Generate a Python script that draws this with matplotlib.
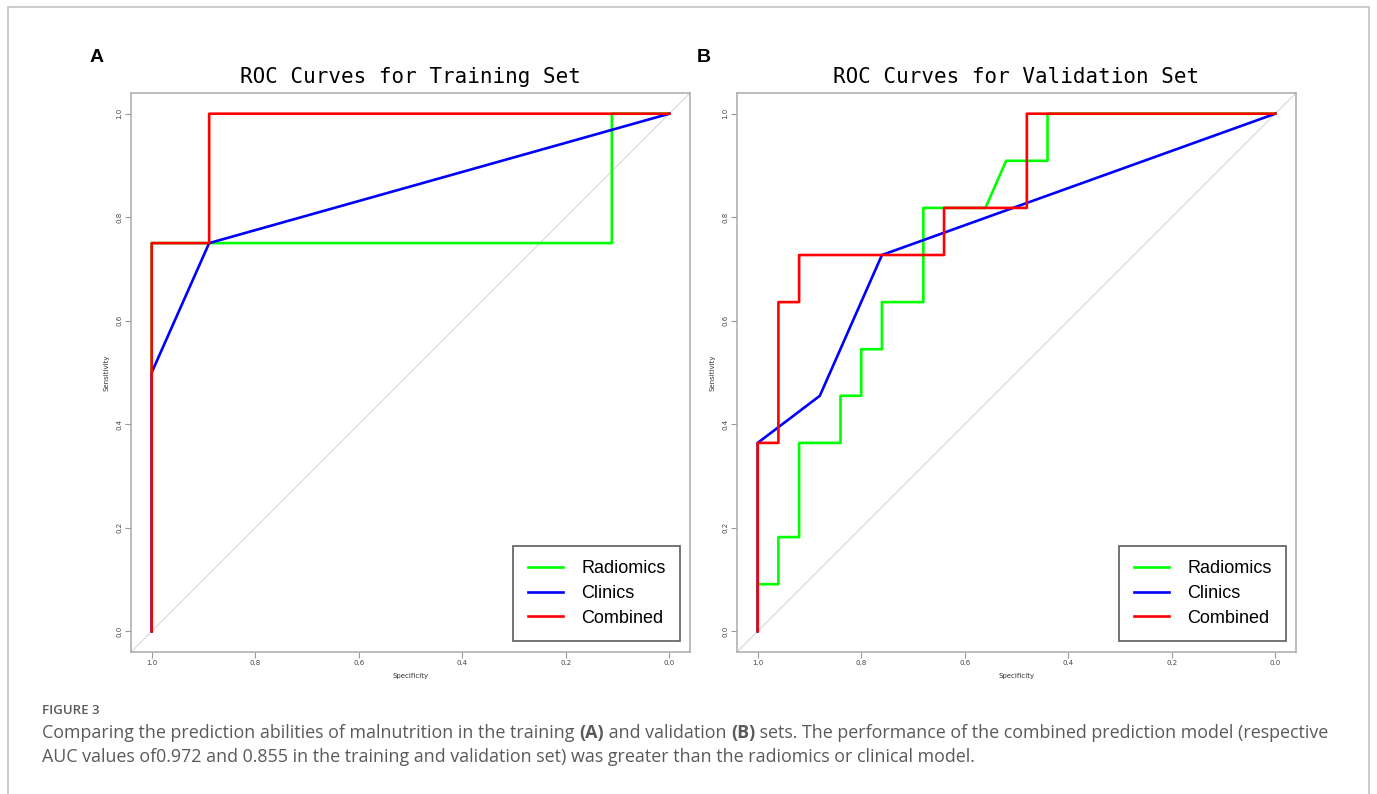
"""
ROC curves, training / validation (figure 3)
"""

import matplotlib
matplotlib.use("Agg")
import matplotlib.pyplot as plt
from matplotlib.patches import Rectangle

# training set ROC points (specificity, sensitivity)
rad_tr_spec = [1.0, 1.0, 0.889, 0.111, 0.111, 0.0]
rad_tr_sens = [0.0, 0.75, 0.75, 0.75, 1.0, 1.0]
cli_tr_spec = [1.0, 1.0, 0.889, 0.0]
cli_tr_sens = [0.0, 0.5, 0.75, 1.0]
com_tr_spec = [1.0, 1.0, 0.889, 0.889, 0.0]
com_tr_sens = [0.0, 0.75, 0.75, 1.0, 1.0]

# validation set ROC points
rad_va_spec = [1.0, 1.0, 0.96, 0.96, 0.92, 0.92, 0.84, 0.84, 0.80, 0.80,
               0.76, 0.76, 0.68, 0.68, 0.56, 0.52, 0.44, 0.44, 0.0]
rad_va_sens = [0.0, 0.091, 0.091, 0.182, 0.182, 0.364, 0.364, 0.455, 0.455, 0.545,
               0.545, 0.636, 0.636, 0.818, 0.818, 0.909, 0.909, 1.0, 1.0]
cli_va_spec = [1.0, 1.0, 0.88, 0.76, 0.0]
cli_va_sens = [0.0, 0.364, 0.455, 0.727, 1.0]
com_va_spec = [1.0, 1.0, 0.96, 0.96, 0.92, 0.92, 0.64, 0.64, 0.48, 0.48, 0.0]
com_va_sens = [0.0, 0.364, 0.364, 0.636, 0.636, 0.727, 0.727, 0.818, 0.818, 1.0, 1.0]

labels = ["Radiomics", "Clinics", "Combined"]
colors = ["#00ff00", "#0000ff", "#ff0000"]
ticks = [1.0, 0.8, 0.6, 0.4, 0.2, 0.0]

W, H = 1377, 794
fig = plt.figure(figsize=(W / 100, H / 100), dpi=100)

# grey frame around the whole figure (open at the bottom)
fig.patches.append(Rectangle((8 / W, -0.05), (1369 - 8) / W, 1.05 - 7 / H,
                             transform=fig.transFigure, fill=False,
                             edgecolor="#c4c4c4", linewidth=1.2))


def roc_panel(left, title, curves, letter, letter_x):
    ax = fig.add_axes([left / W, 1 - 652 / H, 559 / W, 559 / H])
    ax.plot([1.04, -0.04], [-0.04, 1.04], color="#d8d8d8", lw=0.8)
    for (sp, se), lab, col in zip(curves, labels, colors):
        ax.plot(sp, se, color=col, lw=1.9, label=lab, snap=False)
    ax.set_xlim(1.04, -0.04)
    ax.set_ylim(-0.04, 1.04)
    ax.set_xticks(ticks)
    ax.set_yticks(ticks)
    ax.set_xticklabels([f"{t:.1f}" for t in ticks])
    ax.set_yticklabels([f"{t:.1f}" for t in ticks], rotation=90, va="center")
    ax.tick_params(length=4, width=0.8, color="#999999", labelsize=5,
                   labelcolor="#444444", pad=2)
    for s in ax.spines.values():
        s.set_color("#aaaaaa")
        s.set_linewidth(1.1)
    ax.set_xlabel("Specificity", fontsize=5, color="#333333", labelpad=5)
    ax.set_ylabel("Sensitivity", fontsize=5, color="#333333", labelpad=5)
    ax.set_title(title, family="DejaVu Sans Mono", fontsize=15, pad=7)
    leg = ax.legend(loc="lower right", bbox_to_anchor=(0.982, 0.0197),
                    prop={"family": "Liberation Sans", "size": 13},
                    frameon=True, fancybox=False,
                    handlelength=1.95, handletextpad=1.0, borderpad=0.8,
                    labelspacing=0.42, borderaxespad=0)
    leg.get_frame().set_edgecolor("#333333")
    leg.get_frame().set_linewidth(1.2)
    fig.text(letter_x / W, 1 - 58 / H, letter, family="Liberation Sans",
             fontweight="bold", fontsize=14, va="center")
    return ax


roc_panel(131, "ROC Curves for Training Set",
          [(rad_tr_spec, rad_tr_sens), (cli_tr_spec, cli_tr_sens), (com_tr_spec, com_tr_sens)],
          "A", 90)
roc_panel(737, "ROC Curves for Validation Set",
          [(rad_va_spec, rad_va_sens), (cli_va_spec, cli_va_sens), (com_va_spec, com_va_sens)],
          "B", 697)

# caption
cap_color = "#5a5a5a"
fig.text(42 / W, 1 - 711 / H, "FIGURE 3", family="Open Sans", fontweight="semibold",
         fontsize=9.5, color=cap_color, va="center")

renderer = fig.canvas.get_renderer()


def text_runs(x, y, runs):
    for s, w in runs:
        t = fig.text(x, y, s, family="Open Sans", fontweight=w, fontsize=12.9,
                     color=cap_color, va="center")
        x += t.get_window_extent(renderer).width / W


text_runs(42 / W, 1 - 733 / H, [
    ("Comparing the prediction abilities of malnutrition in the training ", "normal"),
    ("(A)", "bold"),
    (" and validation ", "normal"),
    ("(B)", "bold"),
    (" sets. The performance of the combined prediction model (respective", "normal"),
])
text_runs(42 / W, 1 - 757 / H, [
    ("AUC values of0.972 and 0.855 in the training and validation set) was greater "
     "than the radiomics or clinical model.", "normal"),
])

fig.savefig("out.png", dpi=100)
